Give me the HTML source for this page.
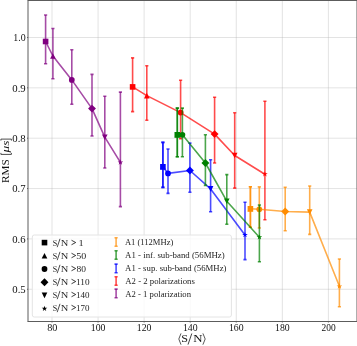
<!DOCTYPE html>
<html><head><meta charset="utf-8"><style>html,body{margin:0;padding:0;background:#fff;}svg{display:block;will-change:transform;}</style></head>
<body><svg width="357" height="346" viewBox="0 0 357 346">
<rect width="357" height="346" fill="#fff"/>
<path d="M52.00,0.5V321.5M98.07,0.5V321.5M144.13,0.5V321.5M190.20,0.5V321.5M236.26,0.5V321.5M282.33,0.5V321.5M328.40,0.5V321.5M28.0,37.50H357.0M28.0,87.85H357.0M28.0,138.20H357.0M28.0,188.55H357.0M28.0,238.90H357.0M28.0,289.25H357.0" stroke="#b0b0b0" stroke-opacity="0.35" stroke-width="1" fill="none"/>
<defs><clipPath id="c"><rect x="28.0" y="0.5" width="329.0" height="321.0"/></clipPath></defs>
<g clip-path="url(#c)">
<g stroke="#ff0000" stroke-opacity="0.7" stroke-width="1.6" fill="none">
<path d="M132.60,86.90L146.80,95.60L180.60,112.60L214.60,134.10L234.70,155.50L264.90,174.20" stroke-linejoin="round"/>
<path d="M132.60,57.90V111.60"/><path d="M131.00,57.90H134.20M131.00,111.60H134.20"/>
<path d="M146.80,65.70V120.30"/><path d="M145.20,65.70H148.40M145.20,120.30H148.40"/>
<path d="M180.60,80.20V138.80"/><path d="M179.00,80.20H182.20M179.00,138.80H182.20"/>
<path d="M214.60,97.20V163.00"/><path d="M213.00,97.20H216.20M213.00,163.00H216.20"/>
<path d="M234.70,112.80V188.10"/><path d="M233.10,112.80H236.30M233.10,188.10H236.30"/>
<path d="M264.90,101.30V219.70"/><path d="M263.30,101.30H266.50M263.30,219.70H266.50"/>
</g>
<rect x="129.80" y="84.10" width="5.60" height="5.60" fill="#ff0000"/>
<path d="M146.80,92.80L149.60,98.40L144.00,98.40Z" fill="#ff0000"/>
<circle cx="180.60" cy="112.60" r="2.88" fill="#ff0000"/>
<path d="M214.60,130.14L218.56,134.10L214.60,138.06L210.64,134.10Z" fill="#ff0000"/>
<path d="M234.70,158.30L237.50,152.70L231.90,152.70Z" fill="#ff0000"/>
<path d="M264.90,171.26L264.24,173.29L262.10,173.29L263.83,174.55L263.17,176.58L264.90,175.32L266.63,176.58L265.97,174.55L267.70,173.29L265.56,173.29Z" fill="#ff0000"/>
<g stroke="#0000ff" stroke-opacity="0.7" stroke-width="1.6" fill="none">
<path d="M162.90,166.80L162.90,166.80L168.00,173.40L189.90,170.50L210.60,188.90L245.00,234.90" stroke-linejoin="round"/>
<path d="M162.90,142.40V187.40"/><path d="M161.30,142.40H164.50M161.30,187.40H164.50"/>
<path d="M162.90,142.40V187.40"/><path d="M161.30,142.40H164.50M161.30,187.40H164.50"/>
<path d="M168.00,149.00V193.40"/><path d="M166.40,149.00H169.60M166.40,193.40H169.60"/>
<path d="M189.90,143.10V192.30"/><path d="M188.30,143.10H191.50M188.30,192.30H191.50"/>
<path d="M210.60,159.70V211.80"/><path d="M209.00,159.70H212.20M209.00,211.80H212.20"/>
<path d="M245.00,202.30V259.60"/><path d="M243.40,202.30H246.60M243.40,259.60H246.60"/>
</g>
<rect x="160.10" y="164.00" width="5.60" height="5.60" fill="#0000ff"/>
<path d="M162.90,164.00L165.70,169.60L160.10,169.60Z" fill="#0000ff"/>
<circle cx="168.00" cy="173.40" r="2.88" fill="#0000ff"/>
<path d="M189.90,166.54L193.86,170.50L189.90,174.46L185.94,170.50Z" fill="#0000ff"/>
<path d="M210.60,191.70L213.40,186.10L207.80,186.10Z" fill="#0000ff"/>
<path d="M245.00,231.96L244.34,233.99L242.20,233.99L243.93,235.25L243.27,237.28L245.00,236.02L246.73,237.28L246.07,235.25L247.80,233.99L245.66,233.99Z" fill="#0000ff"/>
<g stroke="#ff8c00" stroke-opacity="0.7" stroke-width="1.6" fill="none">
<path d="M250.40,208.80L250.40,208.80L259.30,209.30L285.20,211.50L309.70,212.10L339.40,286.30" stroke-linejoin="round"/>
<path d="M250.40,186.80V227.30"/><path d="M248.80,186.80H252.00M248.80,227.30H252.00"/>
<path d="M250.40,186.80V227.30"/><path d="M248.80,186.80H252.00M248.80,227.30H252.00"/>
<path d="M259.30,186.90V228.00"/><path d="M257.70,186.90H260.90M257.70,228.00H260.90"/>
<path d="M285.20,187.20V230.80"/><path d="M283.60,187.20H286.80M283.60,230.80H286.80"/>
<path d="M309.70,186.00V234.40"/><path d="M308.10,186.00H311.30M308.10,234.40H311.30"/>
<path d="M339.40,259.00V306.80"/><path d="M337.80,259.00H341.00M337.80,306.80H341.00"/>
</g>
<rect x="247.60" y="206.00" width="5.60" height="5.60" fill="#ff8c00"/>
<path d="M250.40,206.00L253.20,211.60L247.60,211.60Z" fill="#ff8c00"/>
<circle cx="259.30" cy="209.30" r="2.88" fill="#ff8c00"/>
<path d="M285.20,207.54L289.16,211.50L285.20,215.46L281.24,211.50Z" fill="#ff8c00"/>
<path d="M309.70,214.90L312.50,209.30L306.90,209.30Z" fill="#ff8c00"/>
<path d="M339.40,283.36L338.74,285.39L336.60,285.39L338.33,286.65L337.67,288.68L339.40,287.42L341.13,288.68L340.47,286.65L342.20,285.39L340.06,285.39Z" fill="#ff8c00"/>
<g stroke="#008000" stroke-opacity="0.7" stroke-width="1.6" fill="none">
<path d="M177.30,134.80L177.30,134.80L182.40,134.80L205.40,163.00L226.80,201.20L259.40,237.20" stroke-linejoin="round"/>
<path d="M177.30,108.10V156.70"/><path d="M175.70,108.10H178.90M175.70,156.70H178.90"/>
<path d="M177.30,108.10V156.70"/><path d="M175.70,108.10H178.90M175.70,156.70H178.90"/>
<path d="M182.40,108.10V156.80"/><path d="M180.80,108.10H184.00M180.80,156.80H184.00"/>
<path d="M205.40,134.80V185.40"/><path d="M203.80,134.80H207.00M203.80,185.40H207.00"/>
<path d="M226.80,174.60V224.20"/><path d="M225.20,174.60H228.40M225.20,224.20H228.40"/>
<path d="M259.40,205.00V261.70"/><path d="M257.80,205.00H261.00M257.80,261.70H261.00"/>
</g>
<rect x="174.50" y="132.00" width="5.60" height="5.60" fill="#008000"/>
<path d="M177.30,132.00L180.10,137.60L174.50,137.60Z" fill="#008000"/>
<circle cx="182.40" cy="134.80" r="2.88" fill="#008000"/>
<path d="M205.40,159.04L209.36,163.00L205.40,166.96L201.44,163.00Z" fill="#008000"/>
<path d="M226.80,204.00L229.60,198.40L224.00,198.40Z" fill="#008000"/>
<path d="M259.40,234.26L258.74,236.29L256.60,236.29L258.33,237.55L257.67,239.58L259.40,238.32L261.13,239.58L260.47,237.55L262.20,236.29L260.06,236.29Z" fill="#008000"/>
<g stroke="#800080" stroke-opacity="0.7" stroke-width="1.6" fill="none">
<path d="M45.60,41.50L52.90,56.00L71.80,79.90L92.00,108.60L104.80,137.20L120.40,162.30" stroke-linejoin="round"/>
<path d="M45.60,15.00V63.80"/><path d="M44.00,15.00H47.20M44.00,63.80H47.20"/>
<path d="M52.90,28.50V78.80"/><path d="M51.30,28.50H54.50M51.30,78.80H54.50"/>
<path d="M71.80,49.80V104.30"/><path d="M70.20,49.80H73.40M70.20,104.30H73.40"/>
<path d="M92.00,74.40V136.00"/><path d="M90.40,74.40H93.60M90.40,136.00H93.60"/>
<path d="M104.80,96.30V168.00"/><path d="M103.20,96.30H106.40M103.20,168.00H106.40"/>
<path d="M120.40,92.10V206.60"/><path d="M118.80,92.10H122.00M118.80,206.60H122.00"/>
</g>
<rect x="42.80" y="38.70" width="5.60" height="5.60" fill="#800080"/>
<path d="M52.90,53.20L55.70,58.80L50.10,58.80Z" fill="#800080"/>
<circle cx="71.80" cy="79.90" r="2.88" fill="#800080"/>
<path d="M92.00,104.64L95.96,108.60L92.00,112.56L88.04,108.60Z" fill="#800080"/>
<path d="M104.80,140.00L107.60,134.40L102.00,134.40Z" fill="#800080"/>
<path d="M120.40,159.36L119.74,161.39L117.60,161.39L119.33,162.65L118.67,164.68L120.40,163.42L122.13,164.68L121.47,162.65L123.20,161.39L121.06,161.39Z" fill="#800080"/>
</g>
<rect x="32.3" y="235.0" width="199.10000000000002" height="82.0" rx="2" fill="#fff" fill-opacity="0.8" stroke="#e4e4e4" stroke-width="1"/>
<rect x="41.70" y="239.80" width="5.60" height="5.60" fill="#000"/>
<text x="52.83" y="245.50" font-family="Liberation Serif, serif" font-size="9.2" textLength="4.50" lengthAdjust="spacingAndGlyphs" fill="#1c1c1c" >S</text>
<path d="M57.2,247.20L60.0,238.80" stroke="#000" stroke-width="0.7"/>
<text x="60.69" y="245.50" font-family="Liberation Serif, serif" font-size="9.2" textLength="7.55" lengthAdjust="spacingAndGlyphs" fill="#1c1c1c" >N</text>
<path d="M71.5,240.25L75.7,242.50L71.5,244.75" stroke="#000" stroke-width="0.75" fill="none" stroke-linejoin="miter"/>
<text x="78.57" y="245.50" font-family="Liberation Serif, serif" font-size="9.2" textLength="5.14" lengthAdjust="spacingAndGlyphs" fill="#1c1c1c" >1</text>
<path d="M44.50,253.00L47.30,258.60L41.70,258.60Z" fill="#000"/>
<text x="52.83" y="258.50" font-family="Liberation Serif, serif" font-size="9.2" textLength="4.50" lengthAdjust="spacingAndGlyphs" fill="#1c1c1c" >S</text>
<path d="M57.2,260.20L60.0,251.80" stroke="#000" stroke-width="0.7"/>
<text x="60.69" y="258.50" font-family="Liberation Serif, serif" font-size="9.2" textLength="7.55" lengthAdjust="spacingAndGlyphs" fill="#1c1c1c" >N</text>
<path d="M71.5,253.25L75.7,255.50L71.5,257.75" stroke="#000" stroke-width="0.75" fill="none" stroke-linejoin="miter"/>
<text x="76.20" y="258.50" font-family="Liberation Serif, serif" font-size="9.2" textLength="10.00" lengthAdjust="spacingAndGlyphs" fill="#1c1c1c" >50</text>
<circle cx="44.50" cy="269.00" r="2.88" fill="#000"/>
<text x="52.83" y="271.50" font-family="Liberation Serif, serif" font-size="9.2" textLength="4.50" lengthAdjust="spacingAndGlyphs" fill="#1c1c1c" >S</text>
<path d="M57.2,273.20L60.0,264.80" stroke="#000" stroke-width="0.7"/>
<text x="60.69" y="271.50" font-family="Liberation Serif, serif" font-size="9.2" textLength="7.55" lengthAdjust="spacingAndGlyphs" fill="#1c1c1c" >N</text>
<path d="M71.5,266.25L75.7,268.50L71.5,270.75" stroke="#000" stroke-width="0.75" fill="none" stroke-linejoin="miter"/>
<text x="76.52" y="271.50" font-family="Liberation Serif, serif" font-size="9.2" textLength="9.46" lengthAdjust="spacingAndGlyphs" fill="#1c1c1c" >80</text>
<path d="M44.50,278.24L48.46,282.20L44.50,286.16L40.54,282.20Z" fill="#000"/>
<text x="52.83" y="284.50" font-family="Liberation Serif, serif" font-size="9.2" textLength="4.50" lengthAdjust="spacingAndGlyphs" fill="#1c1c1c" >S</text>
<path d="M57.2,286.20L60.0,277.80" stroke="#000" stroke-width="0.7"/>
<text x="60.69" y="284.50" font-family="Liberation Serif, serif" font-size="9.2" textLength="7.55" lengthAdjust="spacingAndGlyphs" fill="#1c1c1c" >N</text>
<path d="M71.5,279.25L75.7,281.50L71.5,283.75" stroke="#000" stroke-width="0.75" fill="none" stroke-linejoin="miter"/>
<text x="76.07" y="284.50" font-family="Liberation Serif, serif" font-size="9.2" textLength="13.53" lengthAdjust="spacingAndGlyphs" fill="#1c1c1c" >110</text>
<path d="M44.50,298.20L47.30,292.60L41.70,292.60Z" fill="#000"/>
<text x="52.83" y="297.50" font-family="Liberation Serif, serif" font-size="9.2" textLength="4.50" lengthAdjust="spacingAndGlyphs" fill="#1c1c1c" >S</text>
<path d="M57.2,299.20L60.0,290.80" stroke="#000" stroke-width="0.7"/>
<text x="60.69" y="297.50" font-family="Liberation Serif, serif" font-size="9.2" textLength="7.55" lengthAdjust="spacingAndGlyphs" fill="#1c1c1c" >N</text>
<path d="M71.5,292.25L75.7,294.50L71.5,296.75" stroke="#000" stroke-width="0.75" fill="none" stroke-linejoin="miter"/>
<text x="76.09" y="297.50" font-family="Liberation Serif, serif" font-size="9.2" textLength="13.47" lengthAdjust="spacingAndGlyphs" fill="#1c1c1c" >140</text>
<path d="M44.50,305.66L43.84,307.69L41.70,307.69L43.43,308.95L42.77,310.98L44.50,309.72L46.23,310.98L45.57,308.95L47.30,307.69L45.16,307.69Z" fill="#000"/>
<text x="52.83" y="310.50" font-family="Liberation Serif, serif" font-size="9.2" textLength="4.50" lengthAdjust="spacingAndGlyphs" fill="#1c1c1c" >S</text>
<path d="M57.2,312.20L60.0,303.80" stroke="#000" stroke-width="0.7"/>
<text x="60.69" y="310.50" font-family="Liberation Serif, serif" font-size="9.2" textLength="7.55" lengthAdjust="spacingAndGlyphs" fill="#1c1c1c" >N</text>
<path d="M71.5,305.25L75.7,307.50L71.5,309.75" stroke="#000" stroke-width="0.75" fill="none" stroke-linejoin="miter"/>
<text x="76.09" y="310.50" font-family="Liberation Serif, serif" font-size="9.2" textLength="13.47" lengthAdjust="spacingAndGlyphs" fill="#1c1c1c" >170</text>
<path d="M116.1,237.70V246.30" stroke="#ff8c00" stroke-opacity="0.7" stroke-width="1.6" fill="none"/><path d="M114.5,237.70H117.69999999999999M114.5,246.30H117.69999999999999" stroke="#ff8c00" stroke-opacity="0.7" stroke-width="1.6" fill="none"/>
<text x="124.91" y="245.40" font-family="Liberation Serif, serif" font-size="9.2" textLength="48.38" lengthAdjust="spacingAndGlyphs" fill="#1c1c1c" >A1 (112MHz)</text>
<path d="M116.1,250.70V259.30" stroke="#008000" stroke-opacity="0.7" stroke-width="1.6" fill="none"/><path d="M114.5,250.70H117.69999999999999M114.5,259.30H117.69999999999999" stroke="#008000" stroke-opacity="0.7" stroke-width="1.6" fill="none"/>
<text x="125.11" y="258.25" font-family="Liberation Serif, serif" font-size="9.2" textLength="99.57" lengthAdjust="spacingAndGlyphs" fill="#1c1c1c" >A1 - inf. sub-band (56MHz)</text>
<path d="M116.1,264.10V272.70" stroke="#0000ff" stroke-opacity="0.7" stroke-width="1.6" fill="none"/><path d="M114.5,264.10H117.69999999999999M114.5,272.70H117.69999999999999" stroke="#0000ff" stroke-opacity="0.7" stroke-width="1.6" fill="none"/>
<text x="125.11" y="271.10" font-family="Liberation Serif, serif" font-size="9.2" textLength="101.35" lengthAdjust="spacingAndGlyphs" fill="#1c1c1c" >A1 - sup. sub-band (56MHz)</text>
<path d="M116.1,276.70V285.30" stroke="#ff0000" stroke-opacity="0.7" stroke-width="1.6" fill="none"/><path d="M114.5,276.70H117.69999999999999M114.5,285.30H117.69999999999999" stroke="#ff0000" stroke-opacity="0.7" stroke-width="1.6" fill="none"/>
<text x="125.31" y="283.95" font-family="Liberation Serif, serif" font-size="9.2" textLength="69.54" lengthAdjust="spacingAndGlyphs" fill="#1c1c1c" >A2 - 2 polarizations</text>
<path d="M116.1,289.10V297.70" stroke="#800080" stroke-opacity="0.7" stroke-width="1.6" fill="none"/><path d="M114.5,289.10H117.69999999999999M114.5,297.70H117.69999999999999" stroke="#800080" stroke-opacity="0.7" stroke-width="1.6" fill="none"/>
<text x="125.31" y="296.80" font-family="Liberation Serif, serif" font-size="9.2" textLength="65.67" lengthAdjust="spacingAndGlyphs" fill="#1c1c1c" >A2 - 1 polarization</text>
<path d="M28.0,0.5V321.5M27.5,321.5H357.0M27.5,0.5H357.0M357.0,0.5V321.5" stroke="#5c5c5c" stroke-width="1" fill="none"/>
<path d="M52.00,321.5v1.0M98.07,321.5v1.0M144.13,321.5v1.0M190.20,321.5v1.0M236.26,321.5v1.0M282.33,321.5v1.0M328.40,321.5v1.0M28.0,37.50h-1.0M28.0,87.85h-1.0M28.0,138.20h-1.0M28.0,188.55h-1.0M28.0,238.90h-1.0M28.0,289.25h-1.0" stroke="#555" stroke-width="0.9" fill="none"/>
<text x="47.19" y="331.10" font-family="Liberation Serif, serif" font-size="10.4" textLength="10.22" lengthAdjust="spacingAndGlyphs" fill="#111" >80</text>
<text x="90.79" y="331.10" font-family="Liberation Serif, serif" font-size="10.4" textLength="14.67" lengthAdjust="spacingAndGlyphs" fill="#111" >100</text>
<text x="136.85" y="331.10" font-family="Liberation Serif, serif" font-size="10.4" textLength="14.67" lengthAdjust="spacingAndGlyphs" fill="#111" >120</text>
<text x="182.92" y="331.10" font-family="Liberation Serif, serif" font-size="10.4" textLength="14.67" lengthAdjust="spacingAndGlyphs" fill="#111" >140</text>
<text x="228.98" y="331.10" font-family="Liberation Serif, serif" font-size="10.4" textLength="14.67" lengthAdjust="spacingAndGlyphs" fill="#111" >160</text>
<text x="275.05" y="331.10" font-family="Liberation Serif, serif" font-size="10.4" textLength="14.67" lengthAdjust="spacingAndGlyphs" fill="#111" >180</text>
<text x="321.62" y="331.10" font-family="Liberation Serif, serif" font-size="10.4" textLength="14.15" lengthAdjust="spacingAndGlyphs" fill="#111" >200</text>
<text x="13.31" y="41.35" font-family="Liberation Serif, serif" font-size="10.9" textLength="12.39" lengthAdjust="spacingAndGlyphs" fill="#111" >1.0</text>
<text x="12.27" y="91.70" font-family="Liberation Serif, serif" font-size="10.9" textLength="13.46" lengthAdjust="spacingAndGlyphs" fill="#111" >0.9</text>
<text x="12.27" y="142.05" font-family="Liberation Serif, serif" font-size="10.9" textLength="13.46" lengthAdjust="spacingAndGlyphs" fill="#111" >0.8</text>
<text x="12.27" y="192.40" font-family="Liberation Serif, serif" font-size="10.9" textLength="13.35" lengthAdjust="spacingAndGlyphs" fill="#111" >0.7</text>
<text x="12.27" y="242.75" font-family="Liberation Serif, serif" font-size="10.9" textLength="13.35" lengthAdjust="spacingAndGlyphs" fill="#111" >0.6</text>
<text x="12.27" y="293.10" font-family="Liberation Serif, serif" font-size="10.9" textLength="13.46" lengthAdjust="spacingAndGlyphs" fill="#111" >0.5</text>
<text x="181.15" y="342.10" font-family="Liberation Serif, serif" font-size="11.0" textLength="6.75" lengthAdjust="spacingAndGlyphs" fill="#111" >S</text>
<path d="M188.0,344.6L191.8,333.5" stroke="#111" stroke-width="0.8"/>
<text x="193.21" y="342.10" font-family="Liberation Serif, serif" font-size="11.0" textLength="9.27" lengthAdjust="spacingAndGlyphs" fill="#111" >N</text>
<path d="M181,333.4L178.8,339L181,344.7M202.9,333.4L205.2,339L202.9,344.7" stroke="#111" stroke-width="0.7" fill="none"/>
<text transform="translate(8.9,182.94) rotate(-90)" x="0" y="0" font-family="Liberation Serif, serif" font-size="11.0" textLength="23.63" lengthAdjust="spacingAndGlyphs" fill="#111" >RMS</text>
<text transform="translate(8.9,152.60) rotate(-90)" x="0" y="0" font-family="Liberation Serif, serif" font-size="11.0" textLength="12.02" lengthAdjust="spacingAndGlyphs" fill="#111" font-style="italic">&#956;s</text>
<path d="M0.9,152.9V154.4H11.4V152.9M0.9,140.6V139.1H11.4V140.6" stroke="#111" stroke-width="0.75" fill="none"/>
</svg></body></html>
